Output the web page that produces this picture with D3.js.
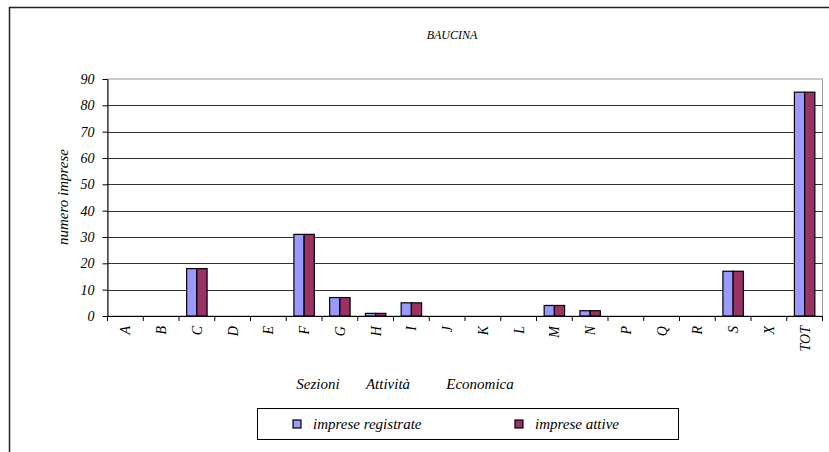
<!DOCTYPE html>
<html><head><meta charset="utf-8">
<script src="https://cdn.jsdelivr.net/npm/d3@7"></script>
</head>
<body style="margin:0"><svg id="c" width="829" height="452"></svg>
<script>
const categories = ["A","B","C","D","E","F","G","H","I","J","K","L","M","N","P","Q","R","S","X","TOT"];
const registrate = [0,0,18,0,0,31,7,1,5,0,0,0,4,2,0,0,0,17,0,85];
const attive     = [0,0,18,0,0,31,7,1,5,0,0,0,4,2,0,0,0,17,0,85];
const seriesNames = ["imprese registrate","imprese attive"];
const seriesColors = ["#9999FF","#993366"];
const yTicks = [0,10,20,30,40,50,60,70,80,90];
const title = "BAUCINA";
const yTitle = "numero imprese";
const xTitleWords = ["Sezioni","Attività","Economica"];

const FONT = "Liberation Serif";
const svg = d3.select("#c");
function txt(size){
  return svg.append("text").style("font-family",FONT).style("font-style","italic")
    .style("font-size",size+"px").attr("fill","#000");
}

// outer chart border
svg.append("path").attr("d","M9.5,452 V7.5 H829").attr("fill","none").attr("stroke","#222").attr("stroke-width",1.5);

const L=107.5, R=822.5, T=79, B=316;
const x = d3.scaleBand().domain(categories).range([L,R]).paddingInner(0).paddingOuter(0);
const bw = x.bandwidth()/3.5;
const xs = d3.scaleBand().domain(seriesNames).range([0,2*bw]);
const y = d3.scaleLinear().domain([0,90]).range([B,T]);

// plot border
svg.append("rect").attr("x",L).attr("y",T).attr("width",R-L).attr("height",B-T)
  .attr("fill","none").attr("stroke","#999").attr("stroke-width",1);
// gridlines
svg.append("g").selectAll("line").data(yTicks.filter(d=>d>0 && d<90)).join("line")
  .attr("x1",L).attr("x2",R).attr("y1",d=>Math.round(y(d))+0.5).attr("y2",d=>Math.round(y(d))+0.5)
  .attr("stroke","#333").attr("stroke-width",1);

// bars
categories.forEach((c,i)=>{
  [registrate[i],attive[i]].forEach((v,k)=>{
    if(v<=0) return;
    svg.append("rect")
      .attr("x", x(c)+ (x.bandwidth()-2*bw)/2 + xs(seriesNames[k]))
      .attr("y", y(v)).attr("width", bw).attr("height", y(0)-y(v))
      .attr("fill", seriesColors[k]).attr("stroke","#000").attr("stroke-width",1.2);
  });
});

// y axis
const ya = svg.append("g").attr("transform",`translate(${L},0)`)
  .call(d3.axisLeft(y).tickValues(yTicks).tickSize(5).tickSizeOuter(0).tickPadding(8));
ya.select(".domain").attr("stroke","#000");
ya.selectAll(".tick line").attr("stroke","#000");
ya.selectAll(".tick text").style("font-family",FONT).style("font-style","italic")
  .style("font-size","14px").attr("fill","#000");

// x axis
const xa = svg.append("g").attr("transform",`translate(0,${B})`)
  .call(d3.axisBottom(x).tickSize(0).tickSizeOuter(0).tickPadding(0));
xa.select(".domain").attr("stroke","#000");
xa.selectAll(".tick text")
  .attr("transform",`translate(5,10) rotate(-90)`).attr("x",0).attr("y",0).attr("dy",null)
  .attr("text-anchor","end").style("font-family",FONT).style("font-style","italic")
  .style("font-size","14px").attr("fill","#000");
xa.selectAll("line.sep").data(categories.concat(["__end"])).join("line").attr("class","sep")
  .attr("x1",(d,i)=> i<categories.length ? x(d) : R).attr("x2",(d,i)=> i<categories.length ? x(d) : R)
  .attr("y1",0).attr("y2",5).attr("stroke","#000");

// titles
txt(12).attr("x",452).attr("y",39).attr("text-anchor","middle").text(title);
txt(15).attr("transform","translate(68,197) rotate(-90)").attr("text-anchor","middle").text(yTitle);
const xtX = [318, 388, 480];
xTitleWords.forEach((w,i)=> txt(15).attr("x",xtX[i]).attr("y",389).attr("text-anchor","middle").text(w));

// legend
svg.append("rect").attr("x",257.5).attr("y",408.5).attr("width",421).attr("height",31)
  .attr("fill","none").attr("stroke","#000").attr("stroke-width",1);
const lx=[293,515], tx=[313,535];
seriesNames.forEach((s,k)=>{
  svg.append("rect").attr("x",lx[k]).attr("y",420).attr("width",8).attr("height",8)
    .attr("fill",seriesColors[k]).attr("stroke","#000").attr("stroke-width",1.2);
  txt(15).attr("x",tx[k]).attr("y",429).text(s);
});
</script></body></html>
